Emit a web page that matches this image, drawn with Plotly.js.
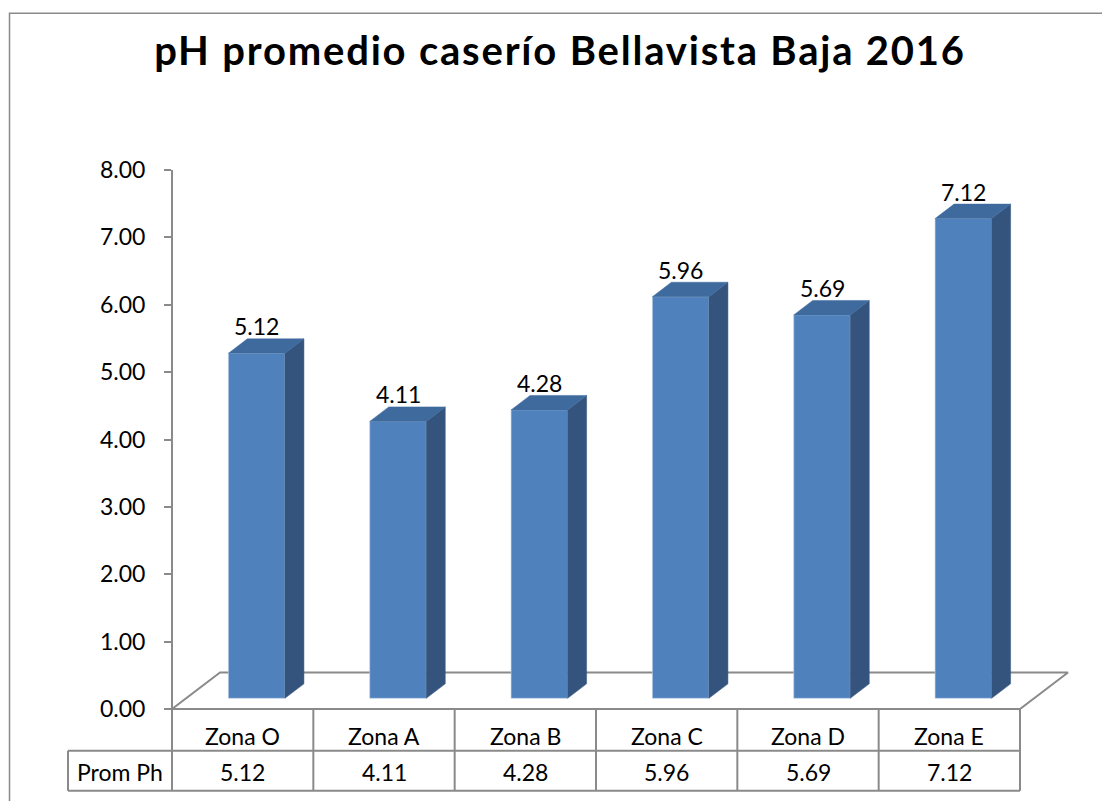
<!DOCTYPE html>
<html>
<head>
<meta charset="utf-8">
<script src="https://cdn.plot.ly/plotly-3.0.1.min.js"></script>
<style>html,body{margin:0;padding:0;background:#fff;}#chart{width:1102px;height:801px;}
.gtitle{letter-spacing:1.8px;}</style>
</head>
<body>
<div id="chart"></div>
<script>
// ---- data ----
const chartTitle = 'pH promedio caserío Bellavista Baja 2016';
const categories = ['Zona O', 'Zona A', 'Zona B', 'Zona C', 'Zona D', 'Zona E'];
const phValues = [5.12, 4.11, 4.28, 5.96, 5.69, 7.12];
const tableRowLabel = 'Prom Ph';
const yTickValues = [0, 1, 2, 3, 4, 5, 6, 7, 8];

// ---- layout geometry (pixels) ----
const W = 1102, H = 801;
const M = {l: 55, r: 20, t: 170, b: 92};
const plotW = W - M.l - M.r, plotH = H - M.t - M.b;
const axisPx = 172;                       // pixel x of value axis
const catPx = 848 / categories.length;    // pixel width of one category
const yMax = yTickValues[yTickValues.length - 1];
const valPx = plotH / yMax;
const xRange = [-0.5 - (axisPx - M.l) / catPx, -0.5 + (W - M.r - axisPx) / catPx];
const yRange = [0, yMax];
// bars sit mid-depth of the 3D floor
const barShiftX = 14 / catPx, barShiftY = 10.7 / valPx;
const x2Range = [xRange[0] - barShiftX, xRange[1] - barShiftX];
const y2Range = [yRange[0] - barShiftY, yRange[1] - barShiftY];
const depthX = 19 / catPx, depthY = 14.5 / valPx;
const floorX = 48 / catPx, floorY = 36.5 / valPx;
const barW = 0.4;

const FONT = 'Lato, "Open Sans", sans-serif';
const GRID = '#8a8a8a';
const FRONT = '#4f81bd', SIDE = '#34547e', TOP = '#3e6a9e';

const idx = categories.map((c, i) => i);
const n = categories.length;

const traces = [];
// floor
traces.push({
  type: 'scatter', mode: 'lines', xaxis: 'x', yaxis: 'y', hoverinfo: 'skip', showlegend: false,
  x: [-0.5, n - 0.5, n - 0.5 + floorX, -0.5 + floorX, -0.5],
  y: [0, 0, floorY, floorY, 0],
  line: {color: GRID, width: 2}
});
// front faces
traces.push({
  type: 'bar', xaxis: 'x2', yaxis: 'y2', x: idx, y: phValues, width: barW,
  marker: {color: FRONT, line: {color: 'rgba(190,210,235,0.6)', width: 1}},
  hoverinfo: 'skip', showlegend: false
});
// side + top faces
phValues.forEach((v, i) => {
  const xl = i - barW / 2, xr = i + barW / 2;
  traces.push({
    type: 'scatter', mode: 'lines', xaxis: 'x2', yaxis: 'y2', fill: 'toself', fillcolor: SIDE,
    line: {color: SIDE, width: 0.5}, hoverinfo: 'skip', showlegend: false,
    x: [xr, xr + depthX, xr + depthX, xr, xr],
    y: [0, depthY, v + depthY, v, 0]
  });
  traces.push({
    type: 'scatter', mode: 'lines', xaxis: 'x2', yaxis: 'y2', fill: 'toself', fillcolor: TOP,
    line: {color: TOP, width: 0.5}, hoverinfo: 'skip', showlegend: false,
    x: [xl, xr, xr + depthX, xl + depthX, xl],
    y: [v, v, v + depthY, v + depthY, v]
  });
});

const pyPaper = p => (H - M.b - p) / plotH;       // pixel y -> paper y
const pxPaper = p => (p - M.l) / plotW;           // pixel x -> paper x
const row1Bottom = pyPaper(750.7), row2Bottom = pyPaper(790.7);
const labelCellLeft = -0.5 - (axisPx - 68) / catPx;

const lineStyle = {color: GRID, width: 2};
const shapes = [];
// outer chart border
shapes.push({type: 'rect', xref: 'paper', yref: 'paper', x0: pxPaper(9.5), x1: pxPaper(1130), y0: pyPaper(13.3), y1: pyPaper(830),
  line: {color: GRID, width: 1.5}, fillcolor: 'rgba(0,0,0,0)', layer: 'below'});
// table horizontals
shapes.push({type: 'line', xref: 'x', yref: 'paper', x0: -0.5, x1: n - 0.5, y0: 0, y1: 0, line: lineStyle});
shapes.push({type: 'line', xref: 'x', yref: 'paper', x0: labelCellLeft, x1: n - 0.5, y0: row1Bottom, y1: row1Bottom, line: lineStyle});
shapes.push({type: 'line', xref: 'x', yref: 'paper', x0: labelCellLeft, x1: n - 0.5, y0: row2Bottom, y1: row2Bottom, line: lineStyle});
// table verticals
for (let i = 0; i <= n; i++) {
  shapes.push({type: 'line', xref: 'x', yref: 'paper', x0: i - 0.5, x1: i - 0.5, y0: 0, y1: row2Bottom, line: lineStyle});
}
shapes.push({type: 'line', xref: 'x', yref: 'paper', x0: labelCellLeft, x1: labelCellLeft, y0: row1Bottom, y1: row2Bottom, line: lineStyle});

const annotations = [];
const txtFont = {family: FONT, size: 23, color: '#000'};
// data labels above bars
phValues.forEach((v, i) => {
  annotations.push({xref: 'x2', yref: 'y2', x: i, y: v, text: v.toFixed(2), showarrow: false,
    yanchor: 'middle', yshift: 27, font: txtFont});
});
// table: category row and value row
categories.forEach((c, i) => {
  annotations.push({xref: 'x', yref: 'paper', x: i, y: pyPaper(736), text: c, showarrow: false,
    yanchor: 'middle', font: txtFont});
  annotations.push({xref: 'x', yref: 'paper', x: i, y: pyPaper(772), text: phValues[i].toFixed(2), showarrow: false,
    yanchor: 'middle', font: txtFont});
});
annotations.push({xref: 'x', yref: 'paper', x: (labelCellLeft - 0.5) / 2, y: pyPaper(772), text: tableRowLabel,
  showarrow: false, yanchor: 'middle', font: txtFont});

const layout = {
  width: W, height: H, margin: M, paper_bgcolor: '#fff', plot_bgcolor: 'rgba(0,0,0,0)',
  showlegend: false,
  title: {text: chartTitle, xref: 'container', yref: 'container', x: 560 / W, xanchor: 'center',
    y: 1 - 51 / H, yanchor: 'middle', font: {family: FONT, size: 40, weight: 'bold', color: '#000'}},
  xaxis: {range: xRange, showgrid: false, zeroline: false, showline: false, showticklabels: false, ticks: '', fixedrange: true},
  yaxis: {range: yRange, anchor: 'free', position: (axisPx - M.l) / plotW, tickvals: yTickValues,
    tickformat: '.2f', ticks: 'outside', ticklen: 7, tickwidth: 2, tickcolor: GRID,
    showline: true, linecolor: GRID, linewidth: 2, showgrid: false, zeroline: false,
    tickfont: txtFont, ticklabelstandoff: 14, fixedrange: true},
  xaxis2: {range: x2Range, overlaying: 'x', visible: false, fixedrange: true},
  yaxis2: {range: y2Range, overlaying: 'y', visible: false, fixedrange: true},
  shapes: shapes,
  annotations: annotations,
  bargap: 0
};

Plotly.newPlot('chart', traces, layout, {displayModeBar: false, staticPlot: true});
</script>
</body>
</html>
